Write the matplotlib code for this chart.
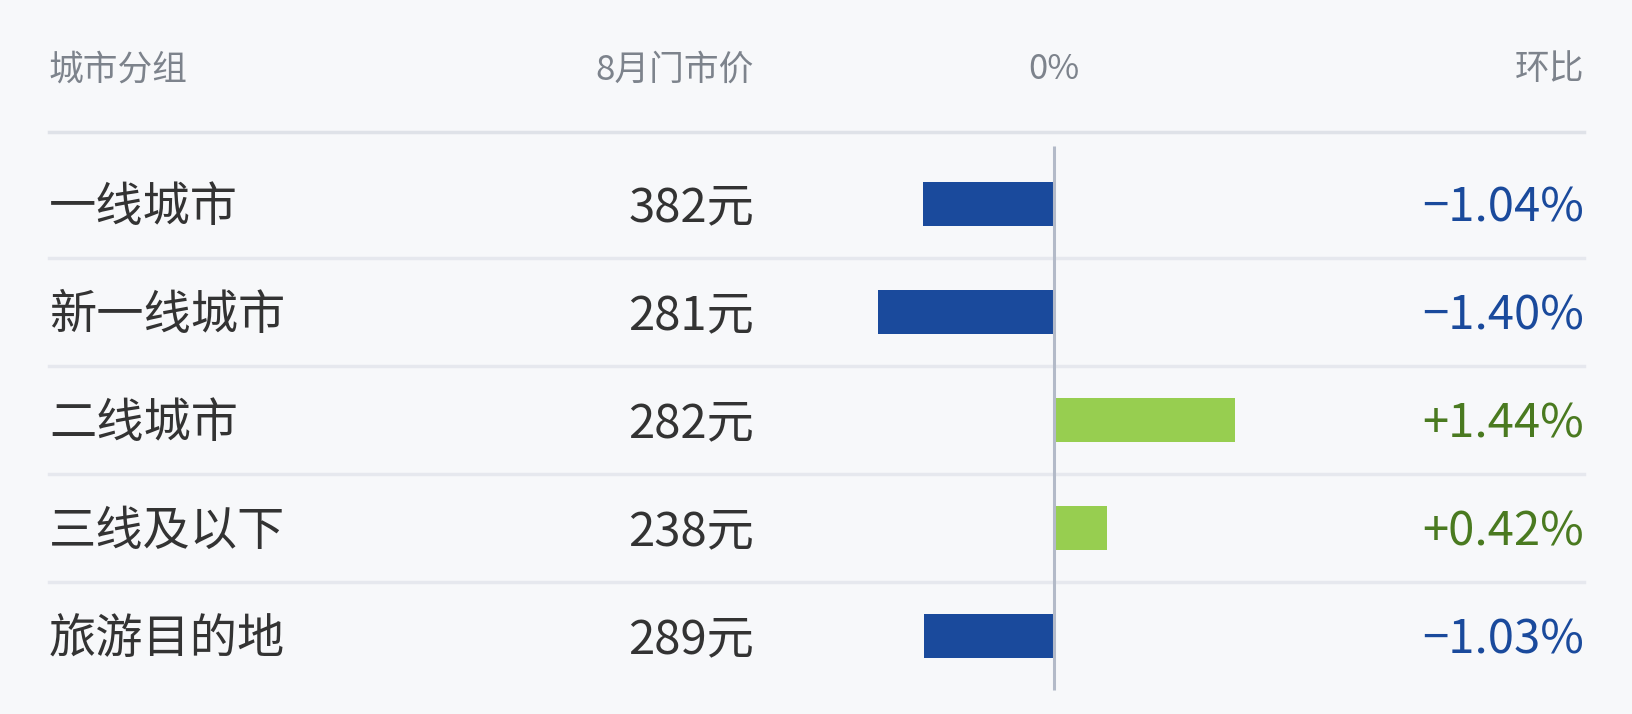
import matplotlib
matplotlib.use("Agg")
import matplotlib.pyplot as plt
import matplotlib.transforms as mtransforms

plt.rcParams['font.family'] = ['Noto Sans CJK SC', 'DejaVu Sans']

# --- data ---
groups = ["一线城市", "新一线城市", "二线城市", "三线及以下", "旅游目的地"]
prices = [382, 281, 282, 238, 289]
changes = [-1.04, -1.40, 1.44, 0.42, -1.03]
headers = ["城市分组", "8月门市价", "0%", "环比"]

W, H = 1632, 714
BG = "#f7f8fa"
NEG = "#1a4a9c"
POS_BAR = "#97ce50"
POS_TXT = "#4a7a20"

fig = plt.figure(figsize=(W / 100, H / 100), dpi=100, facecolor=BG)
ax = fig.add_axes([0, 0, 1, 1])
ax.set_facecolor(BG)

# x in percent: zero at px 1054, 126 px per 1%
x0, ppu = 1054, 126
ax.set_xlim(-x0 / ppu, (W - x0) / ppu)
# rows: centre of row 0 at px 204, 108 px per row
y0, row_h = 204, 108
ax.set_ylim((H - y0) / row_h, -y0 / row_h)
ax.axis("off")

def fx(px):
    return px / W

trans = mtransforms.blended_transform_factory(fig.transFigure, ax.transData)

left, price_right, right = fx(49), fx(754), fx(1584)
txt_dy = 4 / row_h  # text sits a little below the bar centre

# header
y_head = (70 - y0) / row_h
hkw = dict(transform=trans, va="center", fontsize=25, color="#7d838c")
ax.text(left, y_head, headers[0], ha="left", **hkw)
ax.text(price_right, y_head, headers[1], ha="right", **hkw)
ax.text(0, y_head, headers[2], ha="center", va="center", fontsize=25, color="#7d838c")
ax.text(right, y_head, headers[3], ha="right", **hkw)

# header rule and row dividers
ax.axhline((132 - y0) / row_h, left, right, color="#dfe2e8", lw=2.5)
for i in range(len(groups) - 1):
    ax.axhline(i + 0.5, left, right, color="#e6e8ee", lw=2.5)

# bars
rows = list(range(len(groups)))
colors = [POS_BAR if c > 0 else NEG for c in changes]
ax.barh(rows, changes, height=0.4, color=colors, zorder=2)

# zero line
ax.vlines(0, (146 - y0) / row_h, (690 - y0) / row_h, color="#b3bac8", lw=2.2, zorder=3)

# row texts
for i, (g, p, c) in enumerate(zip(groups, prices, changes)):
    ax.text(left, i + txt_dy, g, transform=trans, ha="left", va="center",
            fontsize=34, color="#333333")
    ax.text(price_right, i + txt_dy, f"{p}元", transform=trans, ha="right", va="center",
            fontsize=34, color="#333333")
    sign = "+" if c > 0 else "\u2212"
    ax.text(right, i + txt_dy, f"{sign}{abs(c):.2f}%", transform=trans, ha="right", va="center",
            fontsize=34, color=POS_TXT if c > 0 else NEG)

fig.savefig("out.png", dpi=100, facecolor=BG)
